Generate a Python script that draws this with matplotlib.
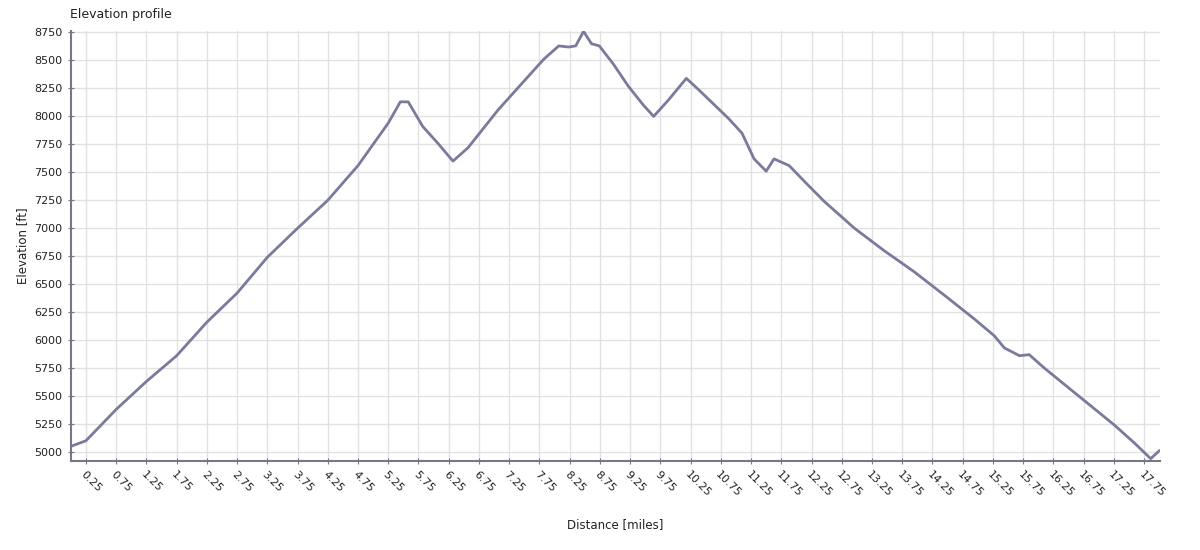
import matplotlib
matplotlib.use("Agg")
import matplotlib.pyplot as plt
import numpy as np

dist = [0.0,0.25,0.75,1.25,1.75,2.25,2.75,3.25,3.75,4.25,4.75,5.25,5.45,5.58,5.82,6.07,6.32,6.57,6.82,7.07,7.32,7.57,7.82,8.07,8.23,8.35,8.48,8.61,8.74,8.97,9.22,9.47,9.64,9.89,10.18,10.38,10.63,10.88,11.1,11.3,11.5,11.63,11.88,12.13,12.46,12.96,13.45,13.95,14.45,14.94,15.27,15.44,15.69,15.85,16.1,16.35,16.76,17.26,17.59,17.86,18.0]
elev = [5050,5100,5380,5630,5860,6160,6420,6740,7000,7250,7560,7940,8130,8130,7910,7760,7600,7720,7890,8060,8210,8360,8510,8630,8620,8630,8760,8650,8630,8470,8270,8100,8000,8150,8340,8240,8110,7980,7850,7620,7510,7620,7560,7420,7240,7000,6800,6610,6400,6190,6040,5930,5860,5870,5750,5640,5460,5240,5080,4940,5010]
xticks = np.arange(0.25, 18.0, 0.5)
yticks = np.arange(5000, 8751, 250)

fig = plt.figure(figsize=(12, 5.5), dpi=100)
ax = fig.add_axes([0.059, 0.162, 0.908, 0.782])
ax.plot(dist, elev, color="#7a7a9c", lw=2)
ax.set_xlim(0.0, 18.02)
ax.set_ylim(4920, 8765)
ax.set_xticks(xticks)
ax.set_xticklabels([f"{t:g}" for t in xticks], rotation=-45, ha="left", rotation_mode="anchor", fontsize=8)
ax.set_yticks(yticks)
ax.set_yticklabels([str(int(t)) for t in yticks], fontsize=8)
ax.grid(True, color="#e2e2e2", lw=1)
ax.set_axisbelow(True)
for s in ["top", "right"]:
    ax.spines[s].set_visible(False)
for s in ["left", "bottom"]:
    ax.spines[s].set_color("#777788")
    ax.spines[s].set_linewidth(1.5)
ax.tick_params(colors="#777788", labelcolor="#222222", length=5, direction="inout")
ax.set_xlabel("Distance [miles]", fontsize=8.5, color="#222222", labelpad=14)
ax.set_ylabel("Elevation [ft]", fontsize=8.5, color="#222222")
fig.text(0.058, 0.968, "Elevation profile", fontsize=9, color="#222222")
fig.savefig("out.png")
